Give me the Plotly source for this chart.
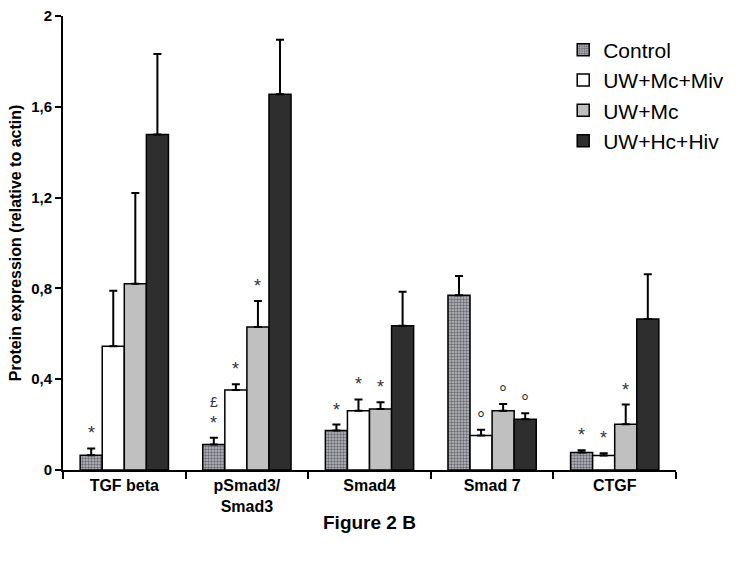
import plotly.graph_objects as go

categories = ["TGF beta", "pSmad3/<br>Smad3", "Smad4", "Smad 7", "CTGF"]
series_names = ["Control", "UW+Mc+Miv", "UW+Mc", "UW+Hc+Hiv"]

control = [0.065, 0.112, 0.174, 0.770, 0.077]
control_err = [0.030, 0.030, 0.026, 0.085, 0.010]
uw_mc_miv = [0.545, 0.352, 0.261, 0.152, 0.064]
uw_mc_miv_err = [0.245, 0.026, 0.050, 0.025, 0.010]
uw_mc = [0.820, 0.630, 0.269, 0.261, 0.202]
uw_mc_err = [0.400, 0.115, 0.029, 0.030, 0.086]
uw_hc_hiv = [1.478, 1.655, 0.635, 0.224, 0.665]
uw_hc_hiv_err = [0.355, 0.240, 0.150, 0.026, 0.197]

# significance marks: (category index, series index, symbol)
marks = [
    (0, 0, "*"),
    (1, 0, "*"), (1, 0, "£"), (1, 1, "*"), (1, 2, "*"),
    (2, 0, "*"), (2, 1, "*"), (2, 2, "*"),
    (3, 1, "°"), (3, 2, "°"), (3, 3, "°"),
    (4, 0, "*"), (4, 1, "*"), (4, 2, "*"),
]

ytickvals = [0, 0.4, 0.8, 1.2, 1.6, 2]
yticktext = ["0", "0,4", "0,8", "1,2", "1,6", "2"]

values = [control, uw_mc_miv, uw_mc, uw_hc_hiv]
errors = [control_err, uw_mc_miv_err, uw_mc_err, uw_hc_hiv_err]
fills = ["#b0b0b6", "#ffffff", "#c0c0c0", "#2e2e2e"]

FONT = "Arial, Liberation Sans, sans-serif"

fig = go.Figure()
for i, name in enumerate(series_names):
    marker = dict(color=fills[i], line=dict(color="black", width=1.5))
    if i == 0:
        marker["pattern"] = dict(shape=".", fgcolor="#6a6a72", bgcolor="#bcbcc2",
                                 size=3, solidity=0.5, fillmode="replace")
    fig.add_trace(go.Bar(
        x=categories, y=values[i], name=name, marker=marker,
        error_y=dict(type="data", array=errors[i], arrayminus=[0] * len(errors[i]),
                     symmetric=False, color="black", thickness=2, width=4),
    ))

gap = 0.28
bw = (1 - gap) / 4
annotations = []
stack = {}
for ci, si, sym in marks:
    key = (ci, si)
    level = stack.get(key, 0)
    stack[key] = level + 1
    top = values[si][ci] + errors[si][ci]
    is_deg = sym == "°"
    if is_deg:
        size, shift = 20, -2
    elif sym == "£":
        size, shift = 14, 3
    else:
        size, shift = 18, 3
    annotations.append(dict(
        x=ci + (si - 1.5) * bw, y=top, xref="x", yref="y", text=sym,
        showarrow=False, yanchor="bottom",
        yshift=shift + level * 23,
        font=dict(family=FONT, size=size, color="#333333"),
    ))

annotations.append(dict(
    x=0.5, y=-0.115, xref="paper", yref="paper", text="<b>Figure 2 B</b>",
    showarrow=False, xanchor="center", yanchor="middle",
    font=dict(family=FONT, size=19, color="black"),
))
annotations.append(dict(
    x=-0.078, y=0.5, xref="paper", yref="paper",
    text="<b>Protein expression (relative to actin)</b>",
    showarrow=False, textangle=-90, xanchor="center", yanchor="middle",
    font=dict(family=FONT, size=16, color="black"),
))

fig.update_layout(
    width=729, height=545,
    margin=dict(l=55, r=61, t=8, b=83),
    paper_bgcolor="white", plot_bgcolor="white",
    barmode="group", bargap=gap, bargroupgap=0,
    font=dict(family=FONT, color="black"),
    showlegend=True,
    legend=dict(x=0.816, y=0.97, xanchor="left", yanchor="top",
                font=dict(family=FONT, size=21, color="black"),
                itemwidth=30, tracegroupgap=0, bgcolor="rgba(0,0,0,0)"),
    annotations=annotations,
    xaxis=dict(
        automargin=False,
        showline=True, linecolor="black", linewidth=2,
        ticks="outside", tickson="boundaries", ticklen=7, tickwidth=2, tickcolor="black",
        tickfont=dict(family=FONT, size=16, color="black", weight="bold"),
    ),
    yaxis=dict(
        automargin=False, ticklabeloverflow="allow",
        range=[0, 2], tickvals=ytickvals, ticktext=yticktext,
        showline=True, linecolor="black", linewidth=2,
        ticks="outside", ticklen=6, tickwidth=2, tickcolor="black",
        showgrid=False, zeroline=False,
        tickfont=dict(family=FONT, size=15, color="black", weight="bold"),
    ),
)

fig.write_html("out.html")
